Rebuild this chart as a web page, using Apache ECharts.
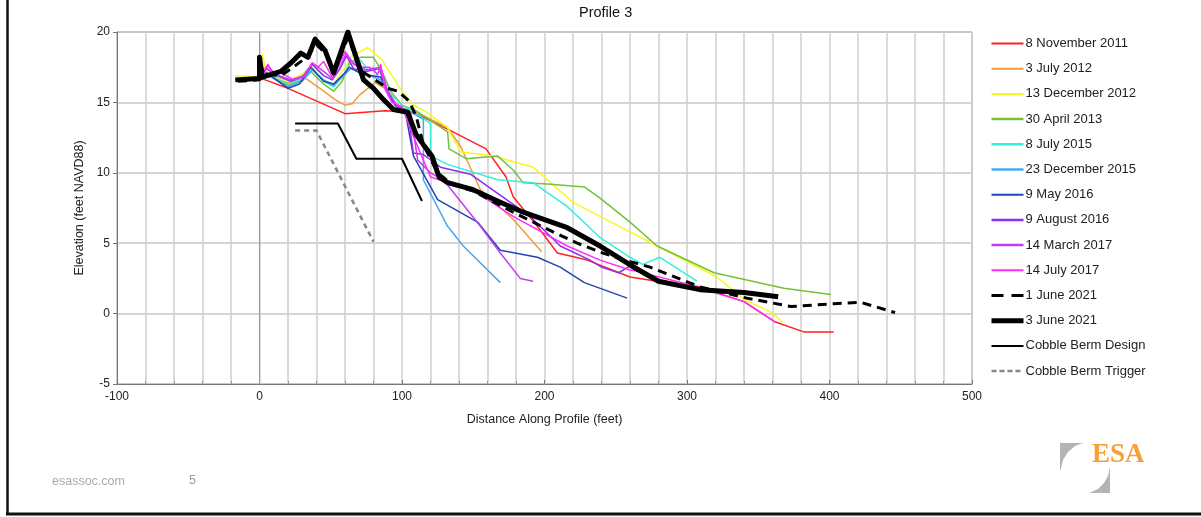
<!DOCTYPE html>
<html><head><meta charset="utf-8">
<script src="https://cdn.jsdelivr.net/npm/echarts@6/dist/echarts.min.js"></script>
<style>html,body{margin:0;padding:0;background:#fff}#c{width:1201px;height:517px}</style>
</head><body><div id="c"></div>
<script>
const xTicks = [-100, 0, 100, 200, 300, 400, 500];
const yTicks = [-5, 0, 5, 10, 15, 20];
const seriesNames = ['8 November 2011','3 July 2012','13 December 2012','30 April 2013','8 July 2015','23 December 2015','9 May 2016','9 August 2016','14 March 2017','14 July 2017','1 June 2021','3 June 2021','Cobble Berm Design','Cobble Berm Trigger'];
const nov2011 = [[0,16.7],[4,16.6],[20,16.0],[60,14.2],[88,14.4],[108,14.3],[132,13.1],[159,11.7],[173,9.7],[178,8.3],[195,6.2],[209,4.3],[230,3.8],[260,2.6],[279,2.3],[309,1.9],[340,0.85],[362,-0.6],[382,-1.3],[403,-1.3]];
const jul2012 = [[0,16.8],[5,17.2],[10,16.7],[20,16.4],[30,16.8],[34,16.6],[45,15.8],[53,15.2],[60,14.8],[65,14.9],[70,15.5],[76,16.0],[81,16.4],[88,16.0],[95,15.0],[100,14.6],[110,14.3],[132,13.2],[141,11.9],[155,8.8],[178,6.7],[198,4.4]];
const dec2012 = [[-17,16.9],[0,16.8],[2,18.4],[5,17.0],[20,16.5],[30,17.0],[36,17.6],[45,16.6],[52,16.3],[60,17.5],[65,18.3],[76,18.9],[86,18.0],[100,15.8],[108,14.8],[116,14.4],[132,13.2],[141,11.5],[164,11.2],[192,10.4],[220,7.9],[239,6.9],[260,5.8],[279,4.8],[321,2.6],[340,1.0],[359,0.1],[367,-0.6]];
const apr2013 = [[0,16.7],[5,17.0],[20,16.2],[30,16.6],[36,17.2],[45,16.3],[52,15.8],[58,16.5],[63,17.8],[71,18.2],[80,18.2],[86,17.2],[92,15.8],[100,14.8],[110,14.4],[132,12.9],[133,11.7],[145,11.0],[167,11.2],[178,10.2],[185,9.3],[202,9.2],[228,9.0],[239,8.2],[260,6.5],[279,4.8],[319,2.9],[368,1.8],[401,1.35]];
const jul2015 = [[0,16.7],[5,17.1],[20,16.3],[30,16.7],[37,17.4],[45,16.5],[52,16.1],[58,16.8],[64,17.8],[71,18.0],[76,17.3],[80,17.5],[84,16.6],[92,15.6],[100,14.8],[110,14.2],[120,13.5],[120,11.2],[132,10.6],[167,9.5],[192,9.3],[216,7.6],[239,5.4],[260,4.0],[269,3.5],[281,4.0],[307,2.3]];
const dec2015 = [[0,16.6],[5,17.0],[20,16.1],[30,16.5],[37,17.3],[45,16.6],[52,16.2],[60,17.0],[64,17.4],[75,17.0],[85,16.6],[92,15.2],[100,14.5],[108,14.2],[115,13.8],[115,9.5],[132,6.2],[143,4.8],[169,2.2]];
const may2016 = [[0,16.6],[5,17.1],[20,16.0],[28,16.3],[36,17.5],[45,16.5],[52,16.3],[60,17.1],[63,17.5],[72,17.0],[85,16.8],[95,14.8],[102,14.5],[108,11.2],[125,8.1],[153,6.5],[169,4.5],[195,4.0],[211,3.3],[228,2.2],[258,1.1]];
const aug2016 = [[0,16.8],[5,17.4],[12,16.9],[22,16.5],[30,16.8],[37,17.7],[45,16.9],[51,16.6],[56,17.3],[61,18.3],[66,17.4],[75,17.2],[84,17.4],[90,15.6],[97,14.6],[104,14.3],[108,11.4],[115,11.3],[127,10.4],[148,9.9],[190,6.9],[211,4.8],[232,3.8],[240,3.3],[252,2.9],[262,3.5]];
const mar2017 = [[0,16.7],[6,17.6],[11,17.0],[22,16.6],[31,16.9],[37,17.8],[45,17.2],[51,16.7],[56,17.4],[61,18.5],[66,17.7],[75,17.3],[85,17.5],[90,15.8],[97,14.7],[106,14.3],[111,10.9],[120,10.0],[129,9.5],[155,6.2],[169,4.3],[183,2.5],[192,2.3]];
const jul2017 = [[0,16.8],[6,17.7],[9,17.0],[13,17.2],[24,16.6],[31,16.8],[37,17.8],[41,17.5],[45,17.9],[51,16.8],[55,17.5],[60,18.6],[65,17.9],[69,17.5],[77,17.5],[83,17.0],[85,17.7],[88,16.0],[93,15.0],[100,14.7],[108,12.6],[120,9.7],[132,9.3],[148,8.9],[178,6.9],[216,4.8],[239,3.8],[260,3.1],[265,3.0],[300,2.1],[340,0.85],[362,-0.6]];
const jun2021a = [[-15,16.5],[0,16.6],[0,18.0],[3,17.0],[15,16.9],[25,17.6],[33,18.2],[40,19.1],[47,18.4],[53,17.3],[62,19.6],[72,17.2],[90,16.0],[97,15.8],[105,15.1],[110,14.0],[115,12.0],[125,10.0],[135,9.2],[150,8.7],[178,7.2],[206,5.8],[223,5.0],[241,4.3],[253,3.9],[274,3.3],[309,1.9],[342,1.1],[373,0.5],[403,0.7],[422,0.8],[446,0.07]];
const jun2021b = [[-17,16.6],[0,16.7],[0,18.2],[2,16.8],[15,17.2],[22,17.8],[29,18.5],[34,18.2],[39,19.5],[46,18.7],[52,17.1],[62,20.0],[73,16.6],[80,16.0],[87,15.2],[94,14.5],[104,14.3],[107,13.5],[110,12.7],[115,12.0],[121,11.2],[126,9.7],[132,9.3],[150,8.8],[167,8.0],[185,7.2],[216,6.1],[239,4.8],[261,3.4],[280,2.3],[309,1.7],[340,1.5],[364,1.2]];
const bermDesign = [[25,13.5],[55,13.5],[68,11.0],[100,11.0],[114,8.0]];
const bermTrigger = [[25,13.0],[40,13.0],[80,5.1]];

const datasets = [nov2011, jul2012, dec2012, apr2013, jul2015, dec2015, may2016, aug2016, mar2017, jul2017, jun2021a, jun2021b, bermDesign, bermTrigger];
const colors = ['#ff2222','#f59a3a','#f8f820','#72c23a','#33f0dc','#4aa8f2','#2443b8','#8f2ef0','#c43cf2','#ff2cff','#000000','#000000','#000000','#888888'];
const widths = [1.5,1.5,1.5,1.5,1.5,1.5,1.5,1.5,1.5,1.5,3,5,2,2.5];
const legendWidths = [2,2,2,2.5,2.5,2.5,2,2.5,2.5,2,3,5,2,2.5];
const types = ['solid','solid','solid','solid','solid','solid','solid','solid','solid','solid',[9,6],'solid','solid',[5,4]];
const legendTypes = ['solid','solid','solid','solid','solid','solid','solid','solid','solid','solid',[12,8],'solid','solid',[5,3]];

const chart = echarts.init(document.getElementById('c'), null, {renderer:'canvas'});
const font = 'Liberation Sans, Arial, sans-serif';
const series = datasets.map((d,i)=>({
  name: seriesNames[i], type:'line', data:d, symbol:'none', smooth:false, animation:false,
  lineStyle:{color:colors[i], width:widths[i], type:types[i], cap:'butt', join:'round'},
  itemStyle:{color:colors[i]}, z: 2 + i
}));
series[0].markLine = {silent:true, symbol:'none', label:{show:false}, animation:false,
  lineStyle:{color:'#999', width:1, type:'solid'}, data:[{xAxis:0}]};

const legendData = seriesNames.map((n,i)=>({name:n, lineStyle:{width:legendWidths[i], type:legendTypes[i], color:colors[i]}}));

chart.setOption({
  animation:false,
  backgroundColor:'#fff',
  grid:{left:117, right:229, top:32, bottom:133, show:true, borderColor:'#8a8a8a', borderWidth:1},
  xAxis:{type:'value', min:xTicks[0], max:xTicks[xTicks.length-1], interval:100,
    axisLine:{onZero:false, lineStyle:{color:'#777', width:1}},
    axisTick:{show:true, inside:true, length:4, lineStyle:{color:'#777'}},
    minorTick:{show:true, splitNumber:5, length:3, lineStyle:{color:'#999'}},
    splitLine:{show:true, lineStyle:{color:'#cfcfcf', width:1.5}},
    minorSplitLine:{show:true, lineStyle:{color:'#cfcfcf', width:1.5}},
    axisLabel:{color:'#222', fontSize:12, fontFamily:font, margin:7},
    name:'Distance Along Profile (feet)', nameLocation:'middle', nameGap:29,
    nameTextStyle:{color:'#222', fontSize:12.5, fontFamily:font}},
  yAxis:{type:'value', min:yTicks[0], max:yTicks[yTicks.length-1], interval:5,
    axisLine:{show:true, onZero:false, lineStyle:{color:'#777', width:1}},
    axisTick:{show:true, length:4, lineStyle:{color:'#777'}},
    splitLine:{show:true, lineStyle:{color:'#c8c8c8', width:1.5}},
    axisLabel:{color:'#222', fontSize:12, fontFamily:font, margin:7},
    name:'Elevation (feet NAVD88)', nameLocation:'middle', nameGap:20, nameRotate:90,
    nameTextStyle:{color:'#222', fontSize:12.5, fontFamily:font}},
  legend:{show:true, orient:'vertical', left:984, top:32, itemWidth:32, itemHeight:14, itemGap:12.2,
    lineStyle:{width:'inherit'}, itemStyle:{opacity:0},
    textStyle:{color:'#222', fontSize:13, fontFamily:font, padding:[0,0,0,-3]}, data:legendData, selectedMode:false},
  graphic:[
    {type:'text', left:579, top:5, style:{text:'Profile 3', fill:'#111', font:'14.5px '+font}, z:100},
    {type:'line', shape:{x1:7.5,y1:0,x2:7.5,y2:514}, style:{stroke:'#111', lineWidth:2.5}, z:100},
    {type:'line', shape:{x1:6,y1:514,x2:1201,y2:514}, style:{stroke:'#111', lineWidth:3}, z:100},
    {type:'text', left:52, top:475, style:{text:'esassoc.com', fill:'#aaa', font:'12.5px '+font}, z:100},
    {type:'text', left:189, top:474, style:{text:'5', fill:'#999', font:'12.5px '+font}, z:100},
    {type:'polygon', shape:{points:[[1060,443],[1083,443],[1075,446],[1068,452],[1063,460],[1060,472]]}, style:{fill:'#b4b4b4'}, z:100},
    {type:'polygon', shape:{points:[[1110,467],[1110,493],[1089,493],[1098,489],[1104,483],[1108,476]]}, style:{fill:'#b4b4b4'}, z:100},
    {type:'text', left:1092, top:442, style:{text:'ESA', fill:'#f7a033', font:'bold 27px Liberation Serif, serif'}, z:100}
  ],
  series: series
});
</script></body></html>
